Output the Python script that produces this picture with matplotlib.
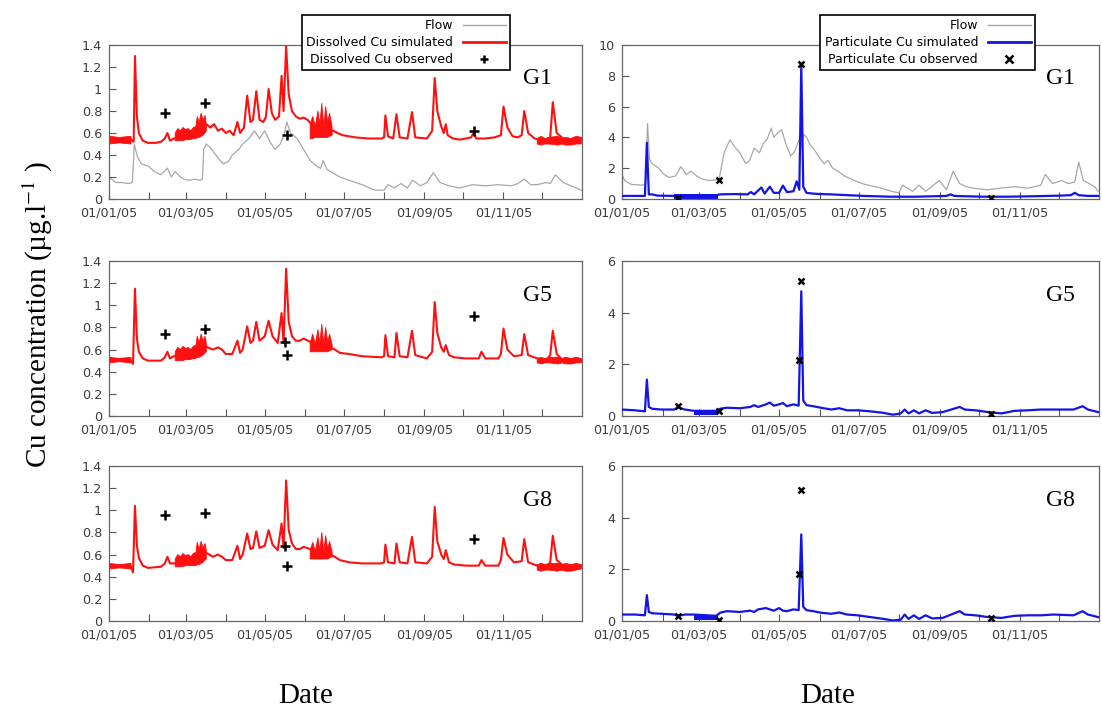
import numpy as np
import pandas as pd
import matplotlib
matplotlib.use('Agg')
import matplotlib.pyplot as plt
import matplotlib.dates as mdates
from matplotlib.lines import Line2D

# ---- data (day of year 2005) ----
START = pd.Timestamp('2005-01-01')
nan = np.nan

# flow, drawn in the G1 panels (left scale / right scale)
flow_l_days = [0, 2, 5, 10, 15, 18, 19.5, 20.5, 22, 25, 30, 35, 40, 45, 48, 51, 55, 58, 62, 66,
               70, 72, 73, 75, 78, 81, 85, 88, 92, 95, 100, 103, 108, 112, 116, 120, 124, 128, 132, 135,
               137, 140, 145, 150, 155, 160, 163, 165, 168, 172, 178, 185, 195, 205, 212, 215, 220, 225, 230, 234,
               240, 245, 250, 255, 262, 270, 280, 290, 300, 310, 315, 320, 325, 330, 337, 340, 344, 350, 356, 364]
flow_l = [0.2, 0.18, 0.15, 0.15, 0.14, 0.15, 0.5, 0.45, 0.38, 0.32, 0.3, 0.25, 0.22, 0.28, 0.2, 0.25, 0.2, 0.18, 0.17, 0.18,
          0.17, 0.18, 0.45, 0.5, 0.47, 0.42, 0.36, 0.32, 0.34, 0.4, 0.45, 0.5, 0.55, 0.62, 0.55, 0.62, 0.52, 0.45, 0.5, 0.58,
          0.7, 0.6, 0.55, 0.45, 0.35, 0.3, 0.28, 0.35, 0.27, 0.24, 0.2, 0.17, 0.13, 0.08, 0.08, 0.13, 0.1, 0.14, 0.1, 0.17,
          0.12, 0.15, 0.24, 0.15, 0.12, 0.1, 0.13, 0.12, 0.13, 0.12, 0.14, 0.18, 0.13, 0.13, 0.15, 0.14, 0.22, 0.15, 0.12, 0.08]

flow_r_days = [0, 2, 7, 15, 18, 19.5, 21, 23, 28, 32, 36, 41, 45, 49, 53, 57, 61, 67, 73, 74,
               78, 82.5, 86, 90, 94.5, 97.5, 101, 105, 108, 111, 114, 116, 119, 122, 125.5, 129, 132, 135, 137, 139,
               141, 144, 147, 151.5, 154.5, 157.5, 161, 165, 170, 175, 180.5, 185.5, 196, 206, 211.5, 214.5, 222, 227, 232, 242.5,
               248, 253, 258, 263, 268.5, 279, 289, 300, 310, 320, 323.5, 329, 336, 341, 346, 349, 352.5, 357, 361, 364]
flow_r = [1.6, 1.2, 0.95, 0.9, 0.95, 4.9, 2.6, 2.3, 2.0, 1.6, 1.4, 1.5, 2.1, 1.6, 1.8, 1.5, 1.3, 1.2, 1.25, 1.2,
          3.0, 3.85, 3.4, 3.0, 2.3, 2.5, 3.3, 3.0, 3.6, 3.9, 4.6, 4.0, 4.3, 4.5, 3.5, 2.8, 3.1, 3.8, 3.4, 4.2,
          4.0, 3.5, 3.2, 2.6, 2.3, 2.5, 2.0, 1.8, 1.5, 1.3, 1.1, 0.95, 0.75, 0.5, 0.4, 0.9, 0.5, 0.9, 0.5, 1.2,
          0.6, 1.8, 1.0, 0.8, 0.7, 0.6, 0.7, 0.8, 0.7, 0.9, 1.6, 1.0, 1.2, 1.0, 1.1, 2.4, 1.2, 1.0, 0.8, 0.5]

# dissolved Cu simulated
dis_g1_days = [0, 5, 10, 17, 19, 20, 21.5, 23, 26, 30, 36, 40, 43, 45, 47, 50, 55, 60, 65, 70,
               73, 75, 78, 81, 84, 87, 90, 93, 96, 99, 101, 104, 106.5, 109, 111, 113.5, 116, 119, 121, 123,
               125.5, 128, 131, 133, 134.5, 136.5, 138.5, 141, 144, 147, 150, 153, 156, 159, 163, 165, 168, 170, 173, 176,
               180, 185, 190, 200, 210, 212, 213, 215, 219, 221.5, 224, 230, 233.5, 236, 245, 249, 251, 253, 256, 258,
               259.5, 261, 265, 270, 275, 279, 281, 283, 290, 297, 302, 304, 307, 311, 315, 318, 320, 323, 328, 335,
               340, 342, 345, 350, 356, 364]
dis_g1 = [0.54, 0.55, 0.53, 0.54, 0.52, 1.30, 0.75, 0.60, 0.53, 0.51, 0.51, 0.52, 0.55, 0.60, 0.53, 0.55, 0.56, 0.58, 0.58, 0.60,
          0.65, 0.68, 0.65, 0.68, 0.62, 0.64, 0.60, 0.62, 0.58, 0.70, 0.60, 0.65, 0.94, 0.70, 0.72, 0.98, 0.72, 0.70, 0.75, 1.00,
          0.78, 0.72, 0.75, 1.12, 0.80, 1.39, 0.95, 0.80, 0.75, 0.73, 0.74, 0.72, 0.68, 0.65, 0.62, 0.62, 0.64, 0.62, 0.62, 0.60,
          0.58, 0.57, 0.56, 0.55, 0.55, 0.56, 0.76, 0.57, 0.55, 0.77, 0.56, 0.55, 0.79, 0.56, 0.55, 0.62, 1.10, 0.80, 0.66, 0.60,
          0.68, 0.58, 0.55, 0.54, 0.55, 0.56, 0.60, 0.55, 0.55, 0.56, 0.58, 0.84, 0.65, 0.57, 0.56, 0.58, 0.80, 0.60, 0.55, 0.53,
          0.56, 0.88, 0.60, 0.55, 0.53, 0.55]

dis_g58_days = [0, 10, 17, 18.5, 20, 21.5, 23, 26, 30, 40, 43, 45, 47, 50, 60, 70, 73, 76, 80, 84,
                87, 90, 95, 99, 101, 103, 106.5, 109, 111, 113.5, 116, 120, 123, 126, 130, 133, 134.5, 136.5, 138.5, 141,
                144, 147, 150, 155, 160, 165, 170, 174, 178, 185, 195, 210, 212, 213, 215, 220, 221.5, 224, 230, 233.5,
                236, 245, 249, 251, 253, 256, 258, 259.5, 262, 266, 275, 285, 287, 290, 300, 302, 304, 307, 312, 318,
                320, 323, 330, 337, 340, 342, 345, 350, 357, 364]
dis_g5 = [0.51, 0.51, 0.50, 0.47, 1.15, 0.70, 0.58, 0.52, 0.50, 0.50, 0.53, 0.58, 0.52, 0.54, 0.56, 0.60, 0.63, 0.62, 0.60, 0.62,
          0.60, 0.56, 0.56, 0.68, 0.57, 0.60, 0.81, 0.66, 0.68, 0.85, 0.68, 0.72, 0.86, 0.72, 0.66, 0.93, 0.66, 1.33, 0.85, 0.72,
          0.68, 0.68, 0.70, 0.67, 0.62, 0.62, 0.62, 0.60, 0.57, 0.56, 0.54, 0.53, 0.54, 0.73, 0.54, 0.53, 0.75, 0.54, 0.53, 0.77,
          0.55, 0.52, 0.58, 1.03, 0.75, 0.62, 0.58, 0.64, 0.55, 0.53, 0.52, 0.52, 0.58, 0.52, 0.52, 0.56, 0.79, 0.60, 0.54, 0.55,
          0.74, 0.55, 0.52, 0.50, 0.55, 0.77, 0.56, 0.50, 0.48, 0.50]
dis_g8 = [0.50, 0.50, 0.49, 0.44, 1.04, 0.68, 0.57, 0.50, 0.48, 0.49, 0.52, 0.58, 0.52, 0.52, 0.55, 0.60, 0.62, 0.61, 0.58, 0.60,
          0.58, 0.55, 0.55, 0.68, 0.56, 0.60, 0.79, 0.65, 0.66, 0.81, 0.66, 0.68, 0.82, 0.69, 0.64, 0.88, 0.66, 1.27, 0.82, 0.70,
          0.65, 0.65, 0.67, 0.65, 0.60, 0.60, 0.60, 0.58, 0.55, 0.53, 0.52, 0.52, 0.53, 0.69, 0.53, 0.52, 0.70, 0.53, 0.52, 0.76,
          0.53, 0.52, 0.58, 1.03, 0.72, 0.60, 0.56, 0.64, 0.53, 0.51, 0.50, 0.50, 0.55, 0.50, 0.50, 0.55, 0.75, 0.60, 0.53, 0.54,
          0.74, 0.53, 0.50, 0.48, 0.53, 0.77, 0.55, 0.50, 0.47, 0.50]

# noisy stretches of the dissolved curves (min / max envelope, nan = gap)
band_days = [0, 8, 17, 18,
             51, 53, 55, 57, 59, 61, 63, 65, 67, 68, 69.5, 71, 72.5, 74, 75, 76,
             155, 157, 159, 161, 162.5, 164, 165.5, 167, 168.5, 170, 172, 173,
             330, 333, 336, 339, 346, 349, 352, 356, 360, 364]
band_g1_lo = [0.50, 0.51, 0.50, nan,
              0.53, 0.53, 0.53, 0.53, 0.54, 0.54, 0.54, 0.55, 0.55, 0.56, 0.56, 0.57, 0.58, 0.60, 0.62, nan,
              0.55, 0.55, 0.56, 0.56, 0.56, 0.56, 0.56, 0.56, 0.56, 0.57, 0.58, nan,
              0.50, 0.49, 0.50, 0.50, 0.49, 0.50, 0.49, 0.49, 0.50, 0.50]
band_g1_hi = [0.57, 0.56, 0.57, nan,
              0.60, 0.64, 0.62, 0.65, 0.63, 0.64, 0.62, 0.65, 0.66, 0.75, 0.70, 0.78, 0.72, 0.76, 0.68, nan,
              0.68, 0.75, 0.66, 0.80, 0.68, 0.87, 0.66, 0.84, 0.70, 0.78, 0.65, nan,
              0.55, 0.57, 0.55, 0.56, 0.57, 0.55, 0.56, 0.55, 0.57, 0.56]
band_g5_lo = [0.48, 0.49, 0.48, nan,
              0.50, 0.50, 0.50, 0.50, 0.51, 0.51, 0.51, 0.52, 0.52, 0.53, 0.53, 0.54, 0.55, 0.57, 0.58, nan,
              0.58, 0.58, 0.58, 0.58, 0.58, 0.58, 0.58, 0.58, 0.58, 0.59, 0.60, nan,
              0.48, 0.47, 0.48, 0.48, 0.47, 0.48, 0.47, 0.47, 0.48, 0.48]
band_g5_hi = [0.53, 0.52, 0.53, nan,
              0.58, 0.62, 0.60, 0.63, 0.61, 0.62, 0.60, 0.63, 0.64, 0.72, 0.66, 0.74, 0.68, 0.72, 0.66, nan,
              0.66, 0.74, 0.65, 0.78, 0.66, 0.83, 0.65, 0.80, 0.67, 0.74, 0.64, nan,
              0.52, 0.53, 0.52, 0.53, 0.53, 0.52, 0.53, 0.52, 0.53, 0.52]
band_g8_lo = [0.47, 0.48, 0.47, nan,
              0.49, 0.49, 0.49, 0.49, 0.50, 0.50, 0.50, 0.50, 0.50, 0.51, 0.51, 0.52, 0.53, 0.55, 0.56, nan,
              0.56, 0.56, 0.56, 0.56, 0.56, 0.56, 0.56, 0.56, 0.56, 0.57, 0.58, nan,
              0.46, 0.45, 0.46, 0.46, 0.45, 0.46, 0.45, 0.45, 0.46, 0.47]
band_g8_hi = [0.52, 0.51, 0.52, nan,
              0.56, 0.60, 0.58, 0.61, 0.59, 0.60, 0.58, 0.61, 0.62, 0.71, 0.65, 0.72, 0.66, 0.70, 0.64, nan,
              0.64, 0.71, 0.63, 0.75, 0.64, 0.80, 0.63, 0.77, 0.65, 0.72, 0.62, nan,
              0.51, 0.52, 0.51, 0.52, 0.52, 0.51, 0.52, 0.51, 0.52, 0.51]

# dissolved Cu observed
obs_dis_g1_days = [43, 74, 137, 281.5]
obs_dis_g1 = [0.78, 0.87, 0.58, 0.615]
obs_dis_g58_days = [43, 74, 135.5, 137, 281.5]
obs_dis_g5 = [0.74, 0.785, 0.665, 0.55, 0.90]
obs_dis_g8 = [0.955, 0.98, 0.68, 0.494, 0.744]

# particulate Cu simulated
part_g1_days = [0, 17.5, 19, 20.5, 23, 27, 40, 72, 75, 85, 96, 98.5, 101, 106.5, 109, 113, 116, 120, 123, 126,
                131, 133.5, 135.5, 137, 138.5, 141, 146, 152, 160, 172, 185, 205, 225, 248, 251, 254, 275, 295, 315, 335,
                343, 346, 349, 356, 364]
part_g1 = [0.2, 0.2, 3.65, 0.3, 0.3, 0.22, 0.2, 0.25, 0.3, 0.32, 0.3, 0.45, 0.3, 0.75, 0.35, 0.8, 0.4, 0.4, 0.87, 0.45,
           0.5, 1.15, 0.6, 8.7, 0.8, 0.4, 0.35, 0.32, 0.3, 0.25, 0.2, 0.15, 0.15, 0.2, 0.3, 0.2, 0.15, 0.15, 0.18, 0.22,
           0.25, 0.4, 0.25, 0.2, 0.2]
part_g58_days = [0, 10, 17.5, 19, 20.5, 23, 30, 40, 43, 48, 55, 72, 75, 80, 90, 98, 101, 104, 110, 113,
                 116, 120, 123, 126, 131, 135, 137, 138.5, 141, 146, 152, 160, 166, 172, 180, 190, 200, 207, 213, 216,
                 219, 223, 227, 232, 237, 245, 258, 262, 270, 280, 290, 300, 310, 320, 330, 345, 352, 356, 364]
part_g5 = [0.25, 0.22, 0.18, 1.41, 0.35, 0.28, 0.25, 0.25, 0.33, 0.25, 0.2, 0.2, 0.28, 0.32, 0.3, 0.35, 0.42, 0.35, 0.45, 0.52,
           0.4, 0.45, 0.5, 0.38, 0.45, 0.4, 4.83, 0.6, 0.42, 0.38, 0.32, 0.25, 0.3, 0.22, 0.22, 0.18, 0.12, 0.05, 0.1, 0.25,
           0.1, 0.22, 0.1, 0.22, 0.12, 0.15, 0.35, 0.25, 0.22, 0.15, 0.1, 0.2, 0.22, 0.25, 0.25, 0.25, 0.38, 0.25, 0.15]
part_g8 = [0.25, 0.25, 0.22, 1.0, 0.35, 0.3, 0.28, 0.25, 0.2, 0.25, 0.25, 0.2, 0.32, 0.38, 0.35, 0.4, 0.35, 0.45, 0.5, 0.45,
           0.4, 0.5, 0.4, 0.38, 0.45, 0.42, 3.35, 0.55, 0.42, 0.38, 0.32, 0.28, 0.33, 0.25, 0.22, 0.15, 0.08, 0.02, 0.05, 0.25,
           0.08, 0.22, 0.08, 0.22, 0.1, 0.12, 0.38, 0.25, 0.22, 0.15, 0.12, 0.2, 0.22, 0.22, 0.25, 0.22, 0.38, 0.25, 0.15]
pband_g1_days = [40, 73]
pband_g1_lo = [0.03, 0.03]
pband_g1_hi = [0.3, 0.3]
pband_g58_days = [55, 73]
pband_g58_lo = [0.03, 0.03]
pband_g58_hi = [0.25, 0.25]

# particulate Cu observed
obs_part_g1_days = [43, 74, 137, 282]
obs_part_g1 = [0.05, 1.24, 8.74, 0.05]
obs_part_g58_days = [43, 74, 135.5, 137, 282]
obs_part_g5 = [0.37, 0.19, 2.17, 5.22, 0.06]
obs_part_g8 = [0.18, 0.05, 1.82, 5.09, 0.1]


def to_dates(days):
    return START + pd.to_timedelta(np.asarray(days, dtype=float), unit='D')


plt.rcParams['mathtext.fontset'] = 'stix'
SERIF = 'Liberation Serif'
RED = '#ff1010'
BLUE = '#1414e6'
GRAY = '#a8a8a8'

fig = plt.figure(figsize=(11.02, 7.11), dpi=100)
W, H = 1102, 711


def make_axes(x0, x1, top, bottom):
    return fig.add_axes([x0 / W, 1 - bottom / H, (x1 - x0) / W, (bottom - top) / H])


def style(ax, ymax, ystep):
    ax.set_xlim(START, START + pd.Timedelta(days=364.5))
    ax.set_ylim(0, ymax)
    ax.set_yticks(np.arange(0, ymax + ystep / 2, ystep))
    ax.yaxis.set_major_formatter(plt.FuncFormatter(lambda v, p: '%g' % round(v, 2)))
    ax.xaxis.set_major_locator(mdates.MonthLocator(bymonth=[1, 3, 5, 7, 9, 11]))
    ax.xaxis.set_minor_locator(mdates.MonthLocator())
    ax.xaxis.set_major_formatter(mdates.DateFormatter('%d/%m/%y'))
    ax.tick_params(axis='both', which='both', direction='in', top=False, right=False,
                   length=5, width=0.8, color='#555555', labelcolor='#3c3c3c', labelsize=9.2)
    ax.tick_params(axis='x', pad=5.5)
    ax.tick_params(axis='y', pad=5)
    for s in ax.spines.values():
        s.set_color('#666666')
        s.set_linewidth(0.9)


rows = [(45, 199), (261, 416), (466, 621)]
left_axes = [make_axes(109, 582, t, b) for t, b in rows]
right_axes = [make_axes(622, 1099, t, b) for t, b in rows]

# left column: dissolved Cu
dis_sets = [
    (dis_g1_days, dis_g1, band_g1_lo, band_g1_hi, obs_dis_g1_days, obs_dis_g1, 'G1'),
    (dis_g58_days, dis_g5, band_g5_lo, band_g5_hi, obs_dis_g58_days, obs_dis_g5, 'G5'),
    (dis_g58_days, dis_g8, band_g8_lo, band_g8_hi, obs_dis_g58_days, obs_dis_g8, 'G8'),
]
for i, (ax, (d, v, blo, bhi, od, ov, name)) in enumerate(zip(left_axes, dis_sets)):
    if i == 0:
        ax.plot(to_dates(flow_l_days), flow_l, color=GRAY, lw=0.9, zorder=1)
    ax.fill_between(to_dates(band_days), blo, bhi, color=RED, lw=0.6, edgecolor=RED, zorder=2)
    ax.plot(to_dates(d), v, color=RED, lw=1.5, zorder=3)
    ax.plot(to_dates(od), ov, ls='none', marker='+', color='black', ms=6.5, mew=1.8, zorder=4)
    style(ax, 1.4, 0.2)
    ax.text(0.905, 0.78, name, transform=ax.transAxes, family=SERIF, fontsize=17, ha='center', va='center')

# right column: particulate Cu
part_sets = [
    (part_g1_days, part_g1, pband_g1_days, pband_g1_lo, pband_g1_hi, obs_part_g1_days, obs_part_g1, 'G1', 10),
    (part_g58_days, part_g5, pband_g58_days, pband_g58_lo, pband_g58_hi, obs_part_g58_days, obs_part_g5, 'G5', 6),
    (part_g58_days, part_g8, pband_g58_days, pband_g58_lo, pband_g58_hi, obs_part_g58_days, obs_part_g8, 'G8', 6),
]
for i, (ax, (d, v, bd, blo, bhi, od, ov, name, ymax)) in enumerate(zip(right_axes, part_sets)):
    if i == 0:
        ax.plot(to_dates(flow_r_days), flow_r, color=GRAY, lw=0.9, zorder=1)
    ax.fill_between(to_dates(bd), blo, bhi, color=BLUE, lw=0, zorder=2)
    ax.plot(to_dates(d), v, color=BLUE, lw=1.6, zorder=3)
    ax.plot(to_dates(od), ov, ls='none', marker='x', color='black', ms=5, mew=1.8, zorder=4)
    style(ax, ymax, 2)
    ax.text(0.92, 0.78, name, transform=ax.transAxes, family=SERIF, fontsize=17, ha='center', va='center')


# gnuplot-like keys (text right-aligned, sample on the right)
def key(ax, color, marker, labels, right_px):
    handles = [Line2D([], [], color=GRAY, lw=1),
               Line2D([], [], color=color, lw=2),
               Line2D([], [], ls='none', marker=marker, color='black', ms=6, mew=1.8)]
    leg = ax.legend(handles, labels, loc='upper right', bbox_to_anchor=(right_px / W, 1 - 15 / H),
                    bbox_transform=fig.transFigure, markerfirst=False, fancybox=False, framealpha=1,
                    edgecolor='black', prop={'size': 9}, handlelength=3.4, handletextpad=0.8,
                    borderpad=0.35, labelspacing=0.3, borderaxespad=0, numpoints=1)
    leg.get_frame().set_linewidth(1.2)
    leg.set_zorder(10)


key(left_axes[0], RED, '+', ['Flow', 'Dissolved Cu simulated', 'Dissolved Cu observed'], 510)
key(right_axes[0], BLUE, 'x', ['Flow', 'Particulate Cu simulated', 'Particulate Cu observed'], 1035)

fig.text(38 / W, 1 - 314 / H, 'Cu concentration (µg.l$^{-1}$ )', rotation=90, family=SERIF,
         fontsize=21, ha='center', va='center')
fig.text(306 / W, 1 - 696 / H, 'Date', family=SERIF, fontsize=21, ha='center', va='center')
fig.text(828 / W, 1 - 696 / H, 'Date', family=SERIF, fontsize=21, ha='center', va='center')

fig.savefig('out.png', dpi=100)
